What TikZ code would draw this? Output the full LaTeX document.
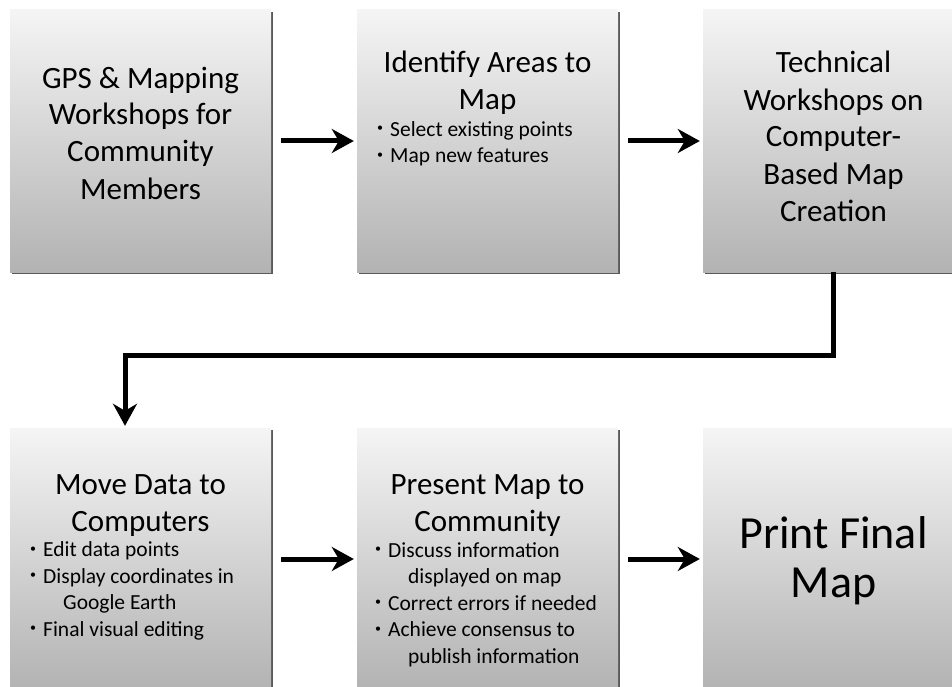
\documentclass[tikz,border=0pt]{standalone}
\usepackage{fontspec}
\setmainfont{Carlito}
\usetikzlibrary{arrows.meta,shadows}

\tikzset{
  stage/.style={minimum width=261pt, minimum height=262pt, inner sep=0pt,
    top color=black!4, bottom color=black!30,
    drop shadow={shadow xshift=2pt, shadow yshift=-2pt, fill=black!65, opacity=1}},
  head/.style={anchor=base, align=center, inner sep=0pt, font=\fontsize{31}{37}\selectfont},
  items/.style={anchor=base west, align=left, inner sep=0pt, font=\fontsize{21.5}{26.5}\selectfont},
  flow/.style={line width=5pt, -{Stealth[length=22pt,width=24pt,inset=7pt]}}
}
\newcommand\bul{\makebox[13pt][l]{\raisebox{4.5pt}{\fontsize{12}{12}\selectfont\textbullet}}}
\newcommand\wrapin{\hspace*{33pt}}

\begin{document}
\begin{tikzpicture}[x=1pt,y=-1pt]
  \useasboundingbox (0,0) rectangle (952,687);
  \clip (0,0) rectangle (952,687);

  \node[stage] (gps) at (140.5,141) {};
  \node[stage] (areas) at (487.5,141) {};
  \node[stage] (tech) at (833.5,141) {};
  \node[stage] (move) at (140.5,559) {};
  \node[stage] (present) at (487.5,559) {};
  \node[stage] (print) at (833.5,559) {};

  % base sits on the last line of each text
  \node[head] (gps-t) at (140.5,199) {GPS \& Mapping\\Workshops for\\Community\\Members};
  \node[head] (areas-t) at (487.5,110) {Identify Areas to\\Map};
  \node[items] (areas-i) at (377,163) {\bul Select existing points\\\bul Map new features};
  \node[head] (tech-t) at (833.5,221) {Technical\\Workshops on\\Computer-\\Based Map\\Creation};
  \node[head] (move-t) at (140.5,531) {Move Data to\\Computers};
  \node[items] (move-i) at (30,636) {\bul Edit data points\\\bul Display coordinates in\\\wrapin Google Earth\\\bul Final visual editing};
  \node[head] (present-t) at (487.5,531) {Present Map to\\Community};
  \node[items] (present-i) at (375,663) {\bul Discuss information\\\wrapin displayed on map\\\bul Correct errors if needed\\\bul Achieve consensus to\\\wrapin publish information};
  \node[head, font=\fontsize{46}{49}\selectfont] (print-t) at (833.5,597) {Print Final\\Map};

  \coordinate (bend) at (125,355);

  \begin{scope}[flow]
    \draw[shorten <=10pt, shorten >=3pt] (gps) to (areas);
    \draw[shorten <=10pt, shorten >=3pt] (areas) to (tech);
    \draw[shorten >=2pt] (tech.south) |- (bend) -- (bend |- move.north);
    \draw[shorten <=10pt, shorten >=3pt] (move) to (present);
    \draw[shorten <=10pt, shorten >=3pt] (present) to (print);
  \end{scope}
\end{tikzpicture}
\end{document}
